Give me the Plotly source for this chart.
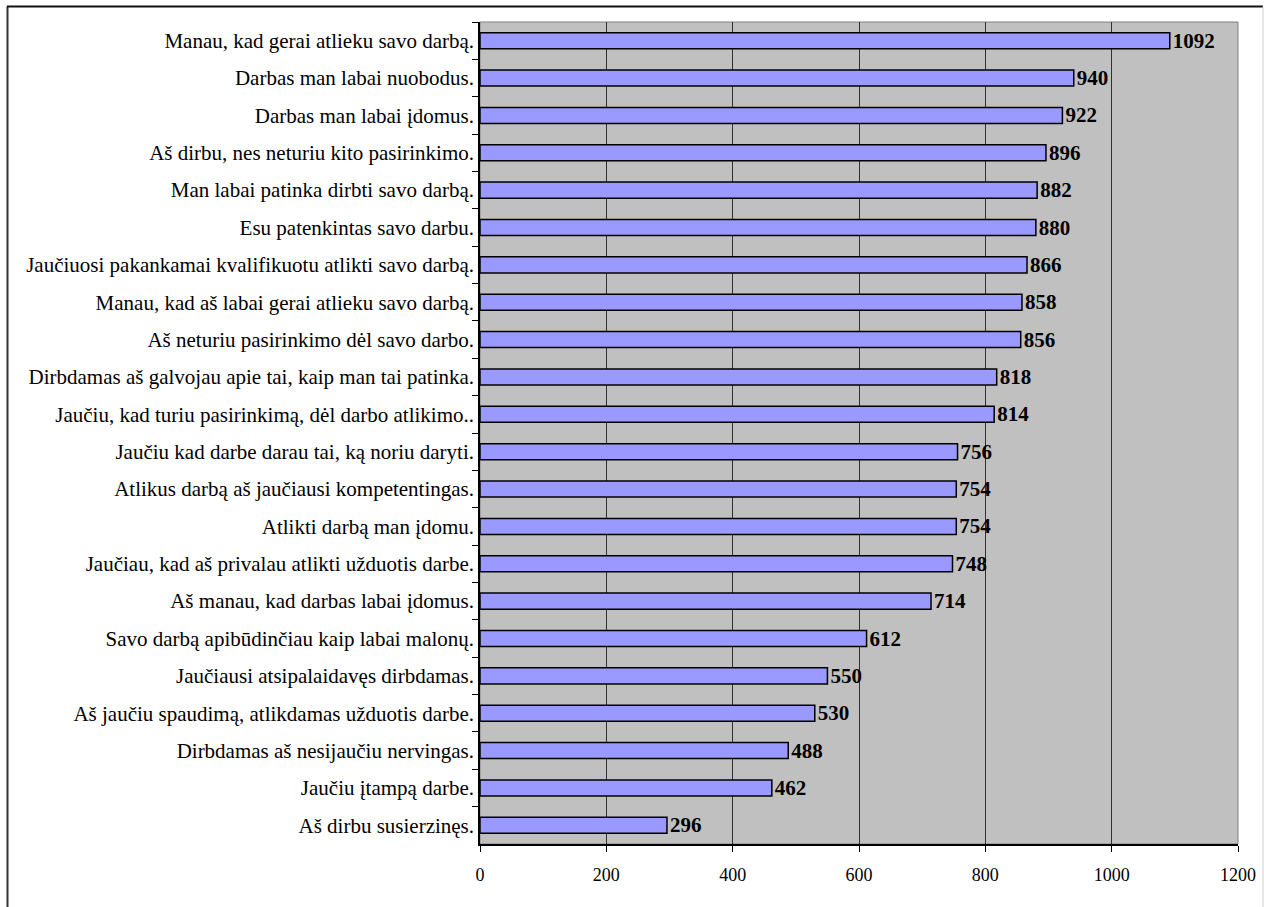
import plotly.graph_objects as go

categories = [
    "Manau, kad gerai atlieku savo darbą.",
    "Darbas man labai nuobodus.",
    "Darbas man labai įdomus.",
    "Aš dirbu, nes neturiu kito pasirinkimo.",
    "Man labai patinka dirbti savo darbą.",
    "Esu patenkintas savo darbu.",
    "Jaučiuosi pakankamai kvalifikuotu atlikti savo darbą.",
    "Manau, kad aš labai gerai atlieku savo darbą.",
    "Aš neturiu pasirinkimo dėl savo darbo.",
    "Dirbdamas aš galvojau apie tai, kaip man tai patinka.",
    "Jaučiu, kad turiu pasirinkimą, dėl darbo atlikimo..",
    "Jaučiu kad darbe darau tai, ką noriu daryti.",
    "Atlikus darbą aš jaučiausi kompetentingas.",
    "Atlikti darbą man įdomu.",
    "Jaučiau, kad aš privalau atlikti užduotis darbe.",
    "Aš manau, kad darbas labai įdomus.",
    "Savo darbą apibūdinčiau kaip labai malonų.",
    "Jaučiausi atsipalaidavęs dirbdamas.",
    "Aš jaučiu spaudimą, atlikdamas užduotis darbe.",
    "Dirbdamas aš nesijaučiu nervingas.",
    "Jaučiu įtampą darbe.",
    "Aš dirbu susierzinęs.",
]
values = [1092, 940, 922, 896, 882, 880, 866, 858, 856, 818, 814,
          756, 754, 754, 748, 714, 612, 550, 530, 488, 462, 296]
x_ticks = [0, 200, 400, 600, 800, 1000, 1200]

SERIF = "Liberation Serif"

fig = go.Figure(go.Bar(
    x=values,
    y=categories,
    orientation="h",
    width=0.43,
    marker=dict(color="#9999ff", line=dict(color="#000000", width=1.5)),
    text=[str(v) for v in values],
    textposition="outside",
    constraintext="none",
    textfont=dict(family=SERIF, size=21, color="#000000", weight="bold"),
    cliponaxis=False,
))

fig.update_layout(
    width=1264, height=907,
    margin=dict(l=480, r=26, t=22, b=63),
    paper_bgcolor="#ffffff",
    plot_bgcolor="#c0c0c0",
    showlegend=False,
    font=dict(family=SERIF, color="#000000"),
    shapes=[
        dict(type="line", xref="paper", yref="paper",
             x0=(7.5 - 480) / 758, x1=(7.5 - 480) / 758,
             y0=1 + (22 - 6.5) / 822, y1=-63 / 822 - 0.01,
             line=dict(color="#333333", width=2)),
        dict(type="line", xref="paper", yref="paper",
             x0=(7 - 480) / 758, x1=(1263 - 480) / 758,
             y0=1 + (22 - 6.5) / 822, y1=1 + (22 - 6.5) / 822,
             line=dict(color="#111111", width=2)),
        dict(type="line", xref="paper", yref="paper",
             x0=(1263 - 480) / 758, x1=(1263 - 480) / 758,
             y0=1 + (22 - 6.5) / 822, y1=-63 / 822 - 0.01,
             line=dict(color="#d0d0d0", width=1)),
        dict(type="rect", xref="paper", yref="paper",
             x0=0, x1=1, y0=0, y1=1,
             line=dict(color="#808080", width=1), layer="below"),
    ],
)

fig.update_xaxes(
    range=[0, 1200],
    tickvals=x_ticks,
    ticktext=[str(t) for t in x_ticks],
    ticks="outside", ticklen=6, tickcolor="#000000", tickwidth=1,
    tickfont=dict(family=SERIF, size=18, color="#000000"),
    showgrid=True, gridcolor="#303030", gridwidth=1,
    showline=True, linecolor="#000000", linewidth=1.5,
    zeroline=False,
    ticklabelstandoff=8,
    automargin=False,
    fixedrange=True,
)
fig.update_yaxes(
    autorange="reversed",
    ticks="outside", ticklen=6, tickcolor="#000000", tickwidth=1,
    tickson="boundaries",
    tickfont=dict(family=SERIF, size=21, color="#000000"),
    showline=True, linecolor="#000000", linewidth=1.5,
    showgrid=False,
    ticklabelstandoff=0,
    automargin=False,
)

fig.write_html("out.html")
